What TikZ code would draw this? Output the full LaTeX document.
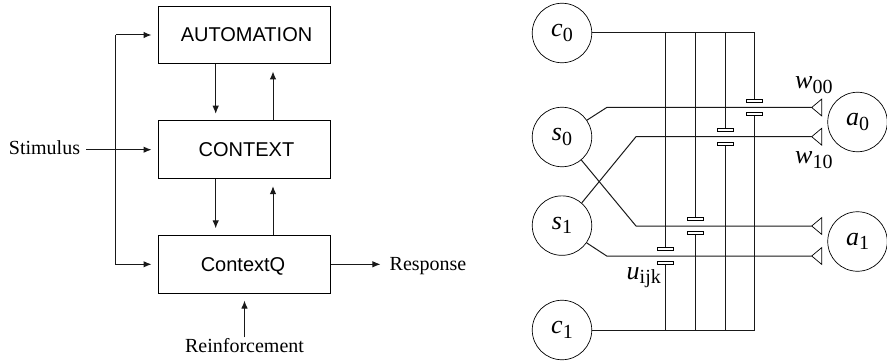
\documentclass[tikz,border=0pt]{standalone}
\usepackage{fontspec}
\setmainfont{Liberation Serif}
\setsansfont{Liberation Sans}
\usetikzlibrary{arrows.meta,calc}
\newcommand{\symb}[2]{{\fontsize{26}{26}\selectfont\textit{#1}\raisebox{-4.5pt}{\fontsize{20}{20}\selectfont\upshape #2}}}
\tikzset{
  wire/.style={line width=1pt,black!90},
  arr/.style={line width=1pt,black!90,-{Latex[length=8pt,width=6.5pt]}},
  blockbox/.style={draw,line width=1pt,minimum width=172pt,minimum height=57.5pt,inner sep=0pt,font=\sffamily\fontsize{20}{20}\selectfont,text height=14pt,text depth=0pt},
  unitc/.style={circle,draw,line width=0.7pt,minimum size=59.5pt,inner sep=0pt},
  plate/.style={draw,fill=white,line width=0.8pt,minimum width=16pt,minimum height=3pt,inner sep=0pt},
  caption/.style={font=\fontsize{20}{20}\selectfont,inner sep=0pt,anchor=base},
  syn/.style={line width=0.7pt,fill=white}
}
\begin{document}
\begin{tikzpicture}[x=1pt,y=-1pt]
\useasboundingbox (0,0) rectangle (887,361);
% left diagram
\node[blockbox] (auto) at (244.5,35) {\hspace*{4pt}AUTOMATION};
\node[blockbox] (ctx) at (244.5,149.7) {\hspace*{4pt}CONTEXT};
\node[blockbox] (ctxq) at (244.5,264.3) {\hspace*{-3pt}ContextQ};
\node[caption] (stim) at (44.5,154.3) {Stimulus};
\node[caption] (resp) at (428,270.7) {Response};
\node[caption] (reinf) at (244.5,352.3) {Reinforcement};
\coordinate (dx) at (215.7,0);
\coordinate (ux) at (273,0);
\coordinate (bus) at (115.7,0);
\draw[arr,shorten >=6.7pt] (auto.south -| dx) -- (ctx.north -| dx);
\draw[arr,shorten >=6.7pt] (ctx.south -| dx) -- (ctxq.north -| dx);
\draw[arr,shorten >=7.2pt] (ctx.north -| ux) -- (auto.south -| ux);
\draw[arr,shorten >=7.2pt] (ctxq.north -| ux) -- (ctx.south -| ux);
\draw[arr,shorten >=6.5pt,shorten <=6pt] (stim.east |- ctx.west) -- (ctx.west);
\draw[arr,shorten >=6.5pt] (auto.west -| bus) -- (auto.west);
\draw[arr,shorten >=6.5pt] (auto.west -| bus) -- (ctxq.west -| bus) -- (ctxq.west);
\draw[arr,shorten >=9pt] (ctxq.east) -- (resp.west |- ctxq.east);
\draw[arr,shorten >=7pt,shorten <=15pt] (reinf.base) -- (ctxq.south);
% right diagram
\node[unitc] (c0) at (562,33) {\symb{c}{0}};
\node[unitc] (s0) at (562,137) {\symb{s}{0}};
\node[unitc] (s1) at (562,225.6) {\symb{s}{1}};
\node[unitc] (c1) at (562,330) {\symb{c}{1}};
\node[unitc] (a0) at (857.5,122) {\symb{a}{0}};
\node[unitc] (a1) at (857.5,241.5) {\symb{a}{1}};
% bus lines from the context units
\coordinate (x0) at (665.7,0);
\coordinate (x1) at (695.7,0);
\coordinate (x2) at (725,0);
\coordinate (x3) at (754.5,0);
\coordinate (t0) at (811.7,107.5);
\coordinate (t1) at (811.7,136.7);
\coordinate (t2) at (811.7,226);
\coordinate (t3) at (811.7,256);
\node[plate] (p3a) at (754.5,100.7) {};
\node[plate] (p3b) at (754.5,114.3) {};
\node[plate] (p2a) at (725,130.3) {};
\node[plate] (p2b) at (725,144) {};
\node[plate] (p1a) at (695.7,219.3) {};
\node[plate] (p1b) at (695.7,232.7) {};
\node[plate] (p0a) at (665.7,249) {};
\node[plate] (p0b) at (665.7,262.7) {};
\begin{scope}[wire]
\draw (s0.34) -- (606.7,107.5) -- (t0);
\draw (s1.49) -- (636,136.7) -- (t1);
\draw (s0.-50) -- (636,226) -- (t2);
\draw (s1.-35) -- (606.7,256) -- (t3);
\draw (c0.east) -- (c0.east -| x3) -- (p3a.north);
\draw (p3b.south) -- (c1.east -| x3) -- (c1.east);
\draw (c0.east -| x2) -- (p2a.north);
\draw (p2b.south) -- (c1.east -| x2);
\draw (c0.east -| x1) -- (p1a.north);
\draw (p1b.south) -- (c1.east -| x1);
\draw (c0.east -| x0) -- (p0a.north);
\draw (p0b.south) -- (c1.east -| x0);
\end{scope}
\foreach \t in {t0,t1,t2,t3}
  \draw[syn] (\t) -- ($(\t)+(10,-8.4)$) -- ($(\t)+(10,8.4)$) -- cycle;
\node[inner sep=0pt,anchor=base west] (w00) at (795,88.5) {\symb{w}{00}};
\node[inner sep=0pt,anchor=base west] (w10) at (795,164) {\symb{w}{10}};
\node[inner sep=0pt,anchor=base west] (uijk) at (626.5,279) {\fontsize{26}{26}\selectfont\textit{u}\raisebox{-4.5pt}{\fontsize{20}{20}\selectfont\upshape ijk}};
\end{tikzpicture}
\end{document}
